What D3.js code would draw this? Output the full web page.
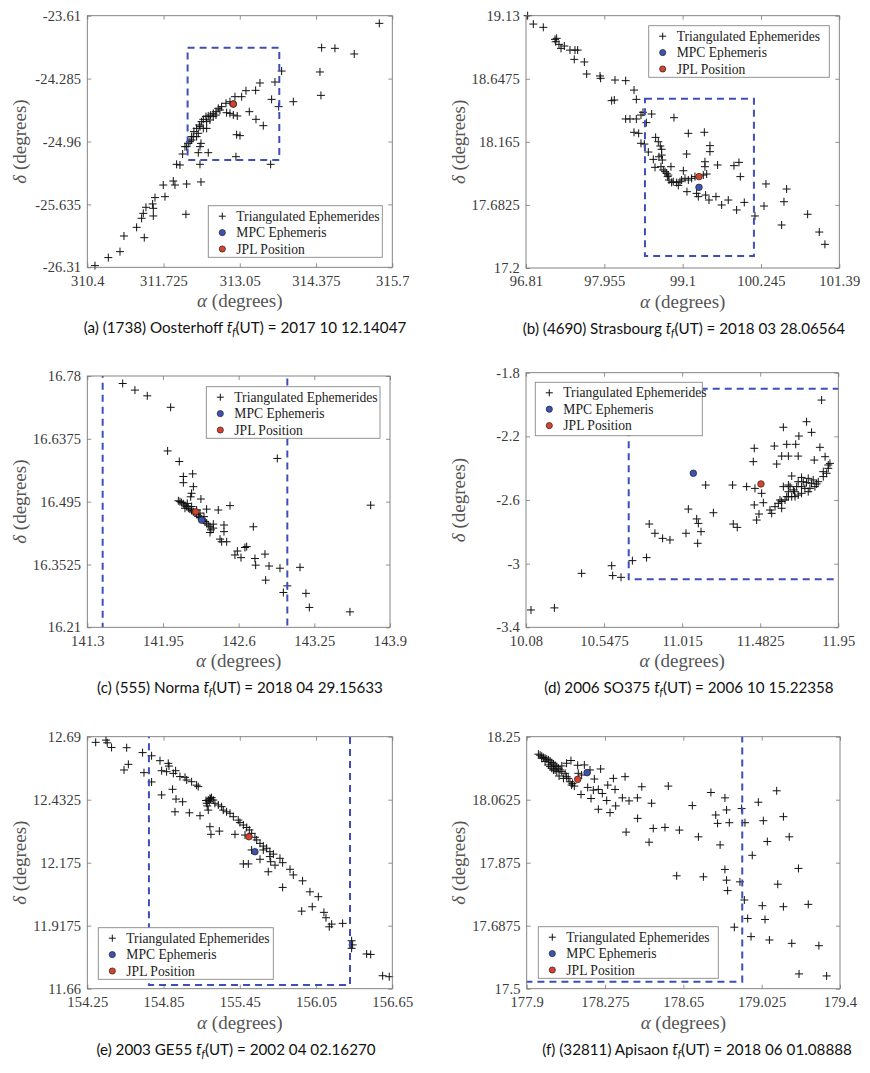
<!DOCTYPE html>
<html><head><meta charset="utf-8">
<script src="https://cdn.jsdelivr.net/npm/d3@7"></script>
<style>html,body{margin:0;padding:0;background:#fff}</style>
</head><body>
<svg id="chart" width="870" height="1073"></svg>
<script>
// ---------------- DATA ----------------
const legendLabels = ["Triangulated Ephemerides", "MPC Ephemeris", "JPL Position"];
const xAxisTitle = "(degrees)";
const yAxisTitle = "(degrees)";

// (a) (1738) Oosterhoff
const xTicksA = ["310.4", "311.725", "313.05", "314.375", "315.7"];
const yTicksA = ["-26.31", "-25.635", "-24.96", "-24.285", "-23.61"];
const ptsA = [[315.474,-23.692],[314.472,-23.953],[314.703,-23.96],[315.039,-24.021],[314.443,-24.214],[313.777,-24.204],[313.661,-24.322],[313.4,-24.332],[314.46,-24.465],[313.98,-24.533],[313.603,-24.508],[313.725,-24.586],[313.325,-24.411],[313.157,-24.415],[313.082,-24.479],[312.966,-24.479],[313.215,-24.64],[313.331,-24.722],[313.458,-24.79],[312.995,-24.887],[313.053,-24.897],[312.983,-25.123],[313.586,-25.205],[312.502,-25.08],[312.358,-25.205],[312.375,-25.394],[312.126,-25.416],[312.114,-25.741],[311.952,-25.205],[312.01,-25.212],[312.056,-25.094],[312.097,-25.015],[311.894,-25.384],[311.923,-25.427],[311.72,-25.427],[311.75,-25.552],[311.576,-25.562],[311.535,-25.63],[311.547,-25.677],[311.547,-25.759],[311.419,-25.666],[311.373,-25.731],[311.344,-25.784],[311.257,-25.881],[311.037,-25.974],[311.39,-25.992],[310.968,-26.142],[310.765,-26.206],[310.533,-26.292],[312.155,-24.98],[312.184,-24.962],[312.213,-24.908],[312.253,-24.854],[312.3,-24.819],[312.346,-24.783],[312.387,-24.747],[312.416,-24.722],[312.462,-24.693],[312.502,-24.686],[312.543,-24.676],[312.589,-24.658],[312.636,-24.64],[312.676,-24.604],[312.734,-24.586],[312.81,-24.55],[312.879,-24.533],[312.358,-24.801],[312.416,-24.819],[312.474,-24.819],[312.329,-24.872],[312.3,-24.908],[312.375,-24.98],[312.358,-25.015],[312.329,-25.08],[312.821,-24.651],[312.879,-24.658],[312.937,-24.676],[313.006,-24.686],[312.589,-24.693],[312.531,-24.729],[312.242,-24.908],[312.213,-24.944],[312.126,-25.015],[312.474,-24.747],[312.636,-24.676],[312.705,-24.622]];
const mpcA = [312.937, -24.558];
const jplA = [312.937, -24.558];
const boxA = [312.143, 313.736, -23.953, -25.158];

// (b) (4690) Strasbourg
const xTicksB = ["96.81", "97.955", "99.1", "100.245", "101.39"];
const yTicksB = ["17.2", "17.6825", "18.165", "18.6475", "19.13"];
const ptsB = [[96.834,19.13],[96.917,19.066],[97.063,19.041],[97.234,18.949],[97.258,18.957],[97.244,18.931],[97.292,18.911],[97.322,18.88],[97.37,18.898],[97.453,18.867],[97.526,18.867],[97.565,18.867],[97.516,18.796],[97.663,18.776],[97.697,18.684],[97.892,18.669],[97.901,18.651],[98.111,18.638],[98.267,18.633],[98.389,18.561],[98.423,18.49],[98.062,18.48],[98.101,18.485],[98.52,18.391],[98.491,18.37],[98.647,18.378],[98.267,18.34],[98.33,18.34],[98.423,18.34],[98.569,18.312],[98.973,18.35],[98.389,18.238],[98.457,18.23],[98.491,18.154],[98.54,18.148],[98.598,18.087],[98.671,18.031],[98.705,18.199],[98.744,18.166],[98.773,18.133],[98.793,18.108],[98.793,18.064],[98.803,18.026],[98.696,17.97],[98.783,17.975],[98.817,17.95],[98.866,17.924],[98.881,17.899],[98.9,17.873],[98.939,17.855],[99.012,17.853],[99.037,17.832],[99.061,17.86],[99.085,17.873],[99.11,17.944],[99.134,17.886],[99.183,17.873],[99.231,17.886],[99.28,17.899],[99.402,17.911],[99.451,17.919],[98.929,17.975],[99.183,18.23],[99.417,18.238],[99.158,18.072],[99.499,18.136],[99.499,18.09],[99.426,18.013],[99.426,17.975],[99.611,17.988],[99.85,17.983],[99.923,18.008],[99.943,17.899],[99.163,17.784],[99.304,17.771],[99.329,17.746],[99.436,17.758],[99.485,17.72],[99.587,17.746],[99.67,17.682],[99.767,17.72],[99.889,17.644],[100.001,17.702],[100.157,17.598],[100.289,17.674],[100.318,17.843],[100.581,17.707],[100.62,17.804],[100.547,17.529],[100.927,17.611],[101.097,17.475],[101.18,17.381],[98.89,17.911],[98.963,17.86],[98.842,17.937],[98.754,18.051]];
const mpcB = [99.339, 17.817];
const jplB = [99.339, 17.899];
const boxB = [98.549, 100.142, 18.495, 17.292];

// (c) (555) Norma
const xTicksC = ["141.3", "141.95", "142.6", "143.25", "143.9"];
const yTicksC = ["16.21", "16.3525", "16.495", "16.6375", "16.78"];
const ptsC = [[141.604,16.763],[141.709,16.748],[141.815,16.735],[142.016,16.709],[141.99,16.61],[142.09,16.586],[142.932,16.593],[143.734,16.487],[142.125,16.552],[142.125,16.538],[142.205,16.558],[142.211,16.529],[142.196,16.514],[142.188,16.506],[142.276,16.501],[142.325,16.478],[142.425,16.476],[142.526,16.486],[142.726,16.438],[142.474,16.442],[142.474,16.427],[142.382,16.444],[142.362,16.431],[142.354,16.425],[142.44,16.41],[142.454,16.404],[142.497,16.404],[142.589,16.383],[142.568,16.374],[142.62,16.368],[142.669,16.393],[142.654,16.391],[142.74,16.366],[142.746,16.351],[142.826,16.376],[142.861,16.349],[142.955,16.344],[143.127,16.346],[142.832,16.317],[143.018,16.304],[142.984,16.289],[143.178,16.287],[143.207,16.255],[143.556,16.245],[142.082,16.497],[142.096,16.495],[142.11,16.493],[142.125,16.49],[142.139,16.487],[142.153,16.484],[142.168,16.48],[142.182,16.478],[142.196,16.475],[142.211,16.472],[142.225,16.469],[142.239,16.466],[142.254,16.462],[142.268,16.459],[142.282,16.456],[142.296,16.453],[142.311,16.45],[142.325,16.446],[142.159,16.491],[142.196,16.484],[142.239,16.476],[142.139,16.48],[142.268,16.469],[142.302,16.461],[142.339,16.442],[142.354,16.438],[142.382,16.435]];
const mpcC = [142.282, 16.453];
const jplC = [142.231, 16.472];
const boxC = [141.432, 143.018, 16.9, 16.1];

// (d) 2006 SO375
const xTicksD = ["10.08", "10.5475", "11.015", "11.4825", "11.95"];
const yTicksD = ["-3.4", "-3", "-2.6", "-2.2", "-1.8"];
const ptsD = [[11.85,-1.972],[11.76,-2.108],[11.621,-2.143],[11.79,-2.175],[11.714,-2.198],[11.641,-2.25],[11.695,-2.25],[11.567,-2.261],[11.447,-2.275],[11.84,-2.269],[11.441,-2.359],[11.611,-2.324],[11.651,-2.324],[11.71,-2.324],[11.581,-2.374],[11.871,-2.328],[11.806,-2.349],[11.9,-2.37],[11.89,-2.401],[11.88,-2.432],[11.86,-2.453],[11.671,-2.449],[11.73,-2.458],[11.77,-2.464],[11.8,-2.474],[11.83,-2.485],[11.82,-2.499],[11.79,-2.495],[11.76,-2.491],[11.74,-2.485],[11.71,-2.485],[11.701,-2.516],[11.681,-2.537],[11.661,-2.516],[11.651,-2.548],[11.73,-2.516],[11.75,-2.527],[11.73,-2.558],[11.71,-2.569],[11.691,-2.579],[11.671,-2.579],[11.651,-2.579],[11.631,-2.6],[11.611,-2.61],[11.591,-2.621],[11.571,-2.642],[11.541,-2.663],[11.551,-2.684],[11.641,-2.579],[11.621,-2.516],[11.651,-2.506],[11.687,-2.548],[11.77,-2.548],[11.81,-2.516],[11.78,-2.527],[11.86,-2.422],[11.89,-2.38],[11.156,-2.506],[11.317,-2.506],[11.401,-2.516],[11.451,-2.527],[11.491,-2.558],[11.501,-2.617],[11.447,-2.631],[11.475,-2.688],[11.461,-2.726],[11.611,-2.652],[11.601,-2.6],[11.052,-2.657],[11.202,-2.68],[11.102,-2.719],[11.112,-2.747],[11.128,-2.799],[11.108,-2.872],[11.038,-2.809],[11.321,-2.751],[11.345,-2.772],[10.818,-2.751],[10.852,-2.809],[10.898,-2.841],[10.942,-2.851],[10.802,-2.962],[10.717,-2.981],[10.593,-3.013],[10.599,-3.075],[10.649,-3.086],[10.413,-3.061],[10.25,-3.278],[10.11,-3.291]];
const mpcD = [11.082, -2.432];
const jplD = [11.487, -2.499];
const boxD = [10.695, 11.96, -1.901, -3.098];

// (e) 2003 GE55
const xTicksE = ["154.25", "154.85", "155.45", "156.05", "156.65"];
const yTicksE = ["11.66", "11.9175", "12.175", "12.4325", "12.69"];
const ptsE = [[154.316,12.667],[154.397,12.676],[154.407,12.665],[154.441,12.646],[154.56,12.645],[154.685,12.625],[154.756,12.612],[154.822,12.592],[154.887,12.581],[154.893,12.57],[154.539,12.554],[154.573,12.577],[154.696,12.543],[154.756,12.505],[154.835,12.551],[154.874,12.547],[154.927,12.54],[154.945,12.551],[154.979,12.527],[155.019,12.524],[155.032,12.513],[155.071,12.506],[155.11,12.492],[155.123,12.486],[154.921,12.475],[154.835,12.452],[154.948,12.435],[155.0,12.424],[154.94,12.383],[155.053,12.379],[155.137,12.367],[155.189,12.418],[155.202,12.431],[155.215,12.438],[155.228,12.441],[155.21,12.424],[155.194,12.407],[155.202,12.39],[155.241,12.431],[155.281,12.411],[155.307,12.404],[155.32,12.39],[155.346,12.383],[155.373,12.377],[155.399,12.363],[155.438,12.349],[155.451,12.339],[155.478,12.329],[155.504,12.319],[155.525,12.309],[155.543,12.295],[155.569,12.279],[155.583,12.268],[155.609,12.254],[155.635,12.243],[155.661,12.234],[155.687,12.22],[155.714,12.21],[155.215,12.322],[155.223,12.291],[155.289,12.304],[155.412,12.291],[155.491,12.288],[155.543,12.227],[155.609,12.189],[155.635,12.227],[155.687,12.2],[155.693,12.179],[155.674,12.138],[155.727,12.165],[155.766,12.193],[155.787,12.175],[155.787,12.074],[155.478,12.17],[155.517,12.17],[155.845,12.148],[155.871,12.125],[155.944,12.101],[156.002,12.056],[156.068,12.036],[156.02,11.995],[155.937,11.977],[156.112,11.972],[156.128,11.95],[156.154,11.913],[156.173,11.924],[156.259,11.927],[156.33,11.856],[156.338,11.839],[156.33,11.825],[156.448,11.802],[156.48,11.8],[156.574,11.713],[156.626,11.709],[155.22,12.435],[155.184,12.429],[155.254,12.418]];
const mpcE = [155.569, 12.22];
const jplE = [155.522, 12.281];
const boxE = [154.735, 156.317, 12.75, 11.675];

// (f) (32811) Apisaon
const xTicksF = ["177.9", "178.275", "178.65", "179.025", "179.4"];
const yTicksF = ["17.5", "17.6875", "17.875", "18.0625", "18.25"];
const ptsF = [[177.956,18.198],[177.964,18.195],[177.972,18.192],[177.98,18.188],[177.988,18.186],[177.996,18.183],[178.004,18.181],[178.012,18.178],[178.02,18.173],[178.028,18.169],[178.036,18.165],[178.044,18.161],[178.052,18.156],[178.06,18.151],[178.068,18.146],[178.084,18.141],[178.091,18.131],[178.099,18.126],[178.107,18.116],[178.115,18.106],[178.128,18.103],[178.004,18.166],[178.02,18.156],[178.036,18.151],[178.055,18.133],[178.076,18.126],[178.119,18.111],[177.972,18.186],[177.988,18.176],[178.012,18.161],[178.028,18.151],[178.044,18.146],[178.068,18.163],[178.091,18.171],[178.112,18.179],[178.144,18.165],[178.176,18.166],[178.203,18.151],[178.254,18.154],[178.147,18.141],[178.163,18.136],[178.224,18.124],[178.315,18.126],[178.371,18.131],[178.451,18.101],[178.578,18.103],[178.192,18.099],[178.219,18.091],[178.243,18.093],[178.262,18.081],[178.288,18.106],[178.323,18.093],[178.16,18.078],[178.208,18.066],[178.283,18.06],[178.243,18.034],[178.299,18.024],[178.326,18.044],[178.358,18.068],[178.39,18.059],[178.43,18.068],[178.498,18.052],[178.431,18.007],[178.376,17.966],[178.506,17.977],[178.562,17.98],[178.631,17.972],[178.486,17.936],[178.693,18.045],[178.782,18.084],[178.849,18.068],[178.857,18.032],[178.805,18.017],[178.814,17.992],[178.87,17.994],[178.929,18.036],[178.945,17.994],[179.009,18.055],[179.033,18.0],[179.097,18.089],[179.129,18.012],[178.722,17.952],[178.826,17.928],[179.052,17.938],[179.157,17.952],[178.98,17.897],[179.201,17.858],[178.618,17.836],[178.746,17.833],[178.849,17.855],[178.857,17.823],[178.862,17.792],[178.921,17.818],[179.102,17.811],[178.942,17.764],[179.028,17.747],[179.129,17.744],[179.248,17.751],[178.958,17.709],[179.041,17.706],[178.894,17.683],[178.974,17.655],[179.062,17.645],[179.169,17.635],[179.299,17.628],[179.204,17.544],[179.336,17.538]];
const mpcF = [178.189, 18.143];
const jplF = [178.144, 18.123];
const boxF = [177.8, 178.932, 18.3, 17.521];

const captionHeads = ["(a) (1738) Oosterhoff ", "(b) (4690) Strasbourg ", "(c) (555) Norma ", "(d) 2006 SO375 ", "(e) 2003 GE55 ", "(f) (32811) Apisaon "];
const captionTails = ["(UT) = 2017 10 12.14047", "(UT) = 2018 03 28.06564", "(UT) = 2018 04 29.15633", "(UT) = 2006 10 15.22358", "(UT) = 2002 04 02.16270", "(UT) = 2018 06 01.08888"];

// ---------------- LAYOUT ----------------
const panels = [
  {L:87.3, R:392.3, T:15.7, B:267.3, xt:xTicksA, yt:yTicksA, pts:ptsA, mpc:mpcA, jpl:jplA, box:boxA, leg:[208.3,205.7,174,51.6], capX:245},
  {L:526, R:839.3, T:15.7, B:268, xt:xTicksB, yt:yTicksB, pts:ptsB, mpc:mpcB, jpl:jplB, box:boxB, leg:[648.7,25.7,180.6,51.6], capX:684},
  {L:87.3, R:390, T:376, B:627.3, xt:xTicksC, yt:yTicksC, pts:ptsC, mpc:mpcC, jpl:jplC, box:boxC, leg:[206.3,386.7,173.7,51.6], capX:240},
  {L:526, R:838.3, T:372.7, B:627.3, xt:xTicksD, yt:yTicksD, pts:ptsD, mpc:mpcD, jpl:jplD, box:boxD, leg:[535.3,382.3,167,53.4], capX:689},
  {L:87.3, R:392.3, T:736.7, B:988.7, xt:xTicksE, yt:yTicksE, pts:ptsE, mpc:mpcE, jpl:jplE, box:boxE, leg:[98.3,927.7,175,51.6], capX:236},
  {L:526.7, R:840, T:736.7, B:988.7, xt:xTicksF, yt:yTicksF, pts:ptsF, mpc:mpcF, jpl:jplF, box:boxF, leg:[538.3,926.7,180,51.6], capX:697}
];

const SERIF = "'Liberation Serif','Times New Roman',serif";
const SANS = "Lato,'Open Sans','Noto Sans',sans-serif";
const BLUE = "#3d52b3", RED = "#d8412c", DASH = "#3f4fb8";
const plusPath = "M-4,0H4M0,-4V4";
const legPlus = "M-3.5,0H3.5M0,-3.5V3.5";

const svg = d3.select('#chart');
svg.append('rect').attr('width', 870).attr('height', 1073).attr('fill', '#fff');
const defs = svg.append('defs');

panels.forEach((p, i) => {
  const xv = p.xt.map(Number), yv = p.yt.map(Number);
  const x = d3.scaleLinear().domain([xv[0], xv[xv.length - 1]]).range([p.L, p.R]);
  const y = d3.scaleLinear().domain([yv[0], yv[yv.length - 1]]).range([p.B, p.T]);
  const g = svg.append('g');
  const cid = 'clip' + i;
  defs.append('clipPath').attr('id', cid).append('rect')
    .attr('x', p.L).attr('y', p.T).attr('width', p.R - p.L).attr('height', p.B - p.T);

  const styleAxis = sel => {
    sel.select('.domain').remove();
    sel.selectAll('.tick line').attr('stroke', '#777').attr('stroke-width', 0.8);
    sel.selectAll('.tick text').attr('fill', '#3a3a3a').style('font-family', SERIF)
      .style('font-size', '14.5px').style('letter-spacing', '0.2px');
  };
  const fx = d => p.xt[xv.indexOf(d)];
  const fy = d => p.yt[yv.indexOf(d)];
  g.append('g').attr('transform', `translate(0,${p.B})`)
    .call(d3.axisBottom(x).tickValues(xv).tickFormat(fx).tickSizeInner(-4).tickSizeOuter(0).tickPadding(8)).call(styleAxis);
  g.append('g').attr('transform', `translate(${p.L},0)`)
    .call(d3.axisLeft(y).tickValues(yv).tickFormat(fy).tickSizeInner(-4).tickSizeOuter(0).tickPadding(6)).call(styleAxis);
  g.append('g').attr('transform', `translate(0,${p.T})`)
    .call(d3.axisTop(x).tickValues(xv).tickFormat('').tickSizeInner(-4).tickSizeOuter(0)).call(styleAxis);
  g.append('g').attr('transform', `translate(${p.R},0)`)
    .call(d3.axisRight(y).tickValues(yv).tickFormat('').tickSizeInner(-4).tickSizeOuter(0)).call(styleAxis);

  // points
  g.append('g').selectAll('path').data(p.pts).join('path')
    .attr('d', plusPath)
    .attr('transform', d => `translate(${x(d[0])},${y(d[1])})`)
    .attr('stroke', '#111').attr('stroke-width', 1).attr('fill', 'none');
  // MPC and JPL
  g.append('circle').attr('cx', x(p.mpc[0])).attr('cy', y(p.mpc[1])).attr('r', 3.3)
    .attr('fill', BLUE).attr('stroke', '#222').attr('stroke-width', 0.7);
  g.append('circle').attr('cx', x(p.jpl[0])).attr('cy', y(p.jpl[1])).attr('r', 3.3)
    .attr('fill', RED).attr('stroke', '#222').attr('stroke-width', 0.7);

  // dashed box
  g.append('rect').attr('clip-path', `url(#${cid})`)
    .attr('x', x(p.box[0])).attr('y', y(p.box[2]))
    .attr('width', x(p.box[1]) - x(p.box[0])).attr('height', y(p.box[3]) - y(p.box[2]))
    .attr('fill', 'none').attr('stroke', DASH).attr('stroke-width', 2).attr('stroke-dasharray', '7,5');

  // frame
  g.append('rect').attr('x', p.L).attr('y', p.T).attr('width', p.R - p.L).attr('height', p.B - p.T)
    .attr('fill', 'none').attr('stroke', '#777').attr('stroke-width', 0.9);

  // legend
  const [lx, ly, lw, lh] = p.leg;
  const lg = g.append('g');
  lg.append('rect').attr('x', lx).attr('y', ly).attr('width', lw).attr('height', lh)
    .attr('fill', '#fff').attr('stroke', '#888').attr('stroke-width', 0.9);
  legendLabels.forEach((lab, k) => {
    const cy = ly + 10.5 + k * 16.4;
    const mx = lx + 14;
    if (k === 0) {
      lg.append('path').attr('d', legPlus).attr('transform', `translate(${mx},${cy})`)
        .attr('stroke', '#111').attr('stroke-width', 1);
    } else {
      lg.append('circle').attr('cx', mx).attr('cy', cy).attr('r', 3.1)
        .attr('fill', k === 1 ? BLUE : RED).attr('stroke', '#222').attr('stroke-width', 0.7);
    }
    lg.append('text').attr('x', lx + 28).attr('y', cy + 4.6).text(lab)
      .attr('fill', '#222').style('font-family', SERIF).style('font-size', '13.6px');
  });

  // axis titles
  const xt = g.append('text').attr('x', (p.L + p.R) / 2).attr('y', p.B + 40)
    .attr('text-anchor', 'middle').attr('fill', '#555').style('font-family', SERIF).style('font-size', '19px');
  xt.append('tspan').style('font-style', 'italic').text('α');
  xt.append('tspan').text(' ' + xAxisTitle);
  const yt = g.append('text').attr('transform', `translate(${p.L - 68},${(p.T + p.B) / 2}) rotate(-90)`)
    .attr('text-anchor', 'middle').attr('dy', '0.35em').attr('fill', '#555').style('font-family', SERIF).style('font-size', '19px');
  yt.append('tspan').style('font-style', 'italic').text('δ');
  yt.append('tspan').text(' ' + yAxisTitle);

  // caption
  const cap = g.append('text').attr('x', p.capX).attr('y', p.B + 66).attr('text-anchor', 'middle')
    .attr('fill', '#111').style('font-family', SANS).style('font-size', '15.2px');
  cap.append('tspan').text(captionHeads[i]);
  cap.append('tspan').style('font-style', 'italic').text('t\u0304');
  cap.append('tspan').style('font-style', 'italic').style('font-size', '10.5px').attr('dy', 3).text('f');
  cap.append('tspan').attr('dy', -3).text(captionTails[i]);
});
</script>
</body></html>
